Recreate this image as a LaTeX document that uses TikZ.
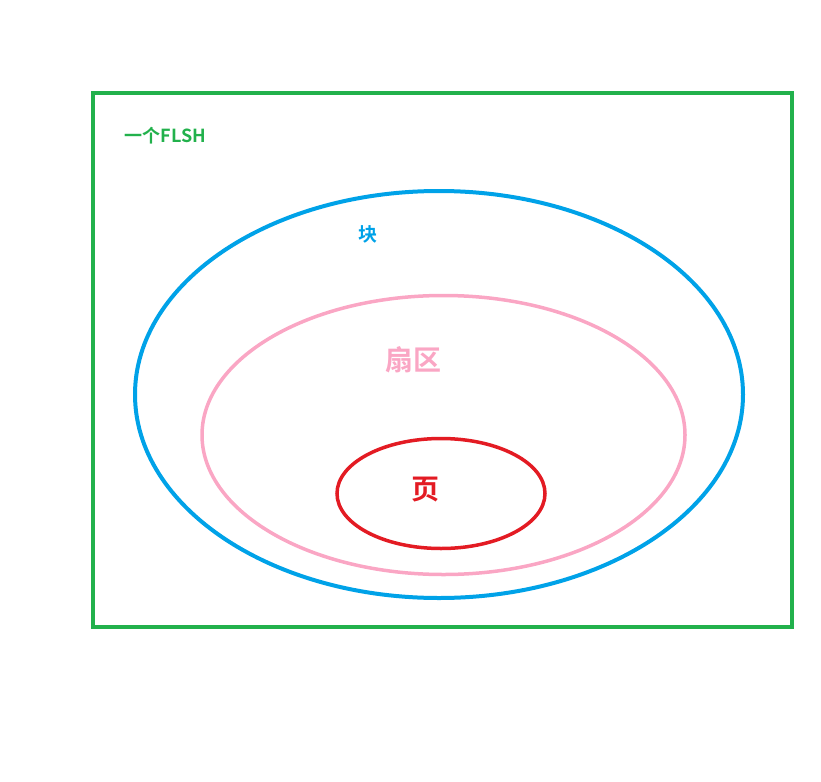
\documentclass[tikz,border=0pt]{standalone}
\usepackage{fontspec}
\newfontfamily\cjk{Noto Sans CJK SC}[BoldFont={Noto Sans CJK SC Bold}]
\usepackage{tikz}
\usetikzlibrary{positioning}
\definecolor{flshgreen}{HTML}{22B14C}
\definecolor{blockblue}{HTML}{00A2E8}
\definecolor{sectorpink}{HTML}{FAA6C4}
\definecolor{pagered}{HTML}{E31B23}

\begin{document}
\begin{tikzpicture} [x=1pt, y=-1pt,
        label/.style={font=\cjk\bfseries, inner sep=0pt, anchor=center},
        outline/.style={line width=#1}]
        \useasboundingbox (0,0) rectangle (821,781);
        \draw[outline=4.5, flshgreen] (93,93) rectangle (792,627);
        \draw[outline=4, blockblue] (439,394.5) ellipse [x radius=304, y radius=203.5];
        \draw[outline=3.5, sectorpink] (443.5,435) ellipse [x radius=241.5, y radius=139.5];
        \draw[outline=3.5, pagered] (441,493.5) ellipse [x radius=104, y radius=55];
        \node[label, flshgreen, font=\cjk\bfseries\fontsize{18}{20}\selectfont] (flsh) at (165.5,136) {一个FLSH};
        \node[label, blockblue, font=\cjk\bfseries\fontsize{19}{21}\selectfont] (block) at (368,234) {块};
        \node[label, sectorpink, font=\cjk\bfseries\fontsize{28}{30}\selectfont] (sector) at (413,360) {扇区};
        \node[label, pagered, font=\cjk\bfseries\fontsize{28}{30}\selectfont] (page) at (425,490) {页};
      \end{tikzpicture}
\end{document}
